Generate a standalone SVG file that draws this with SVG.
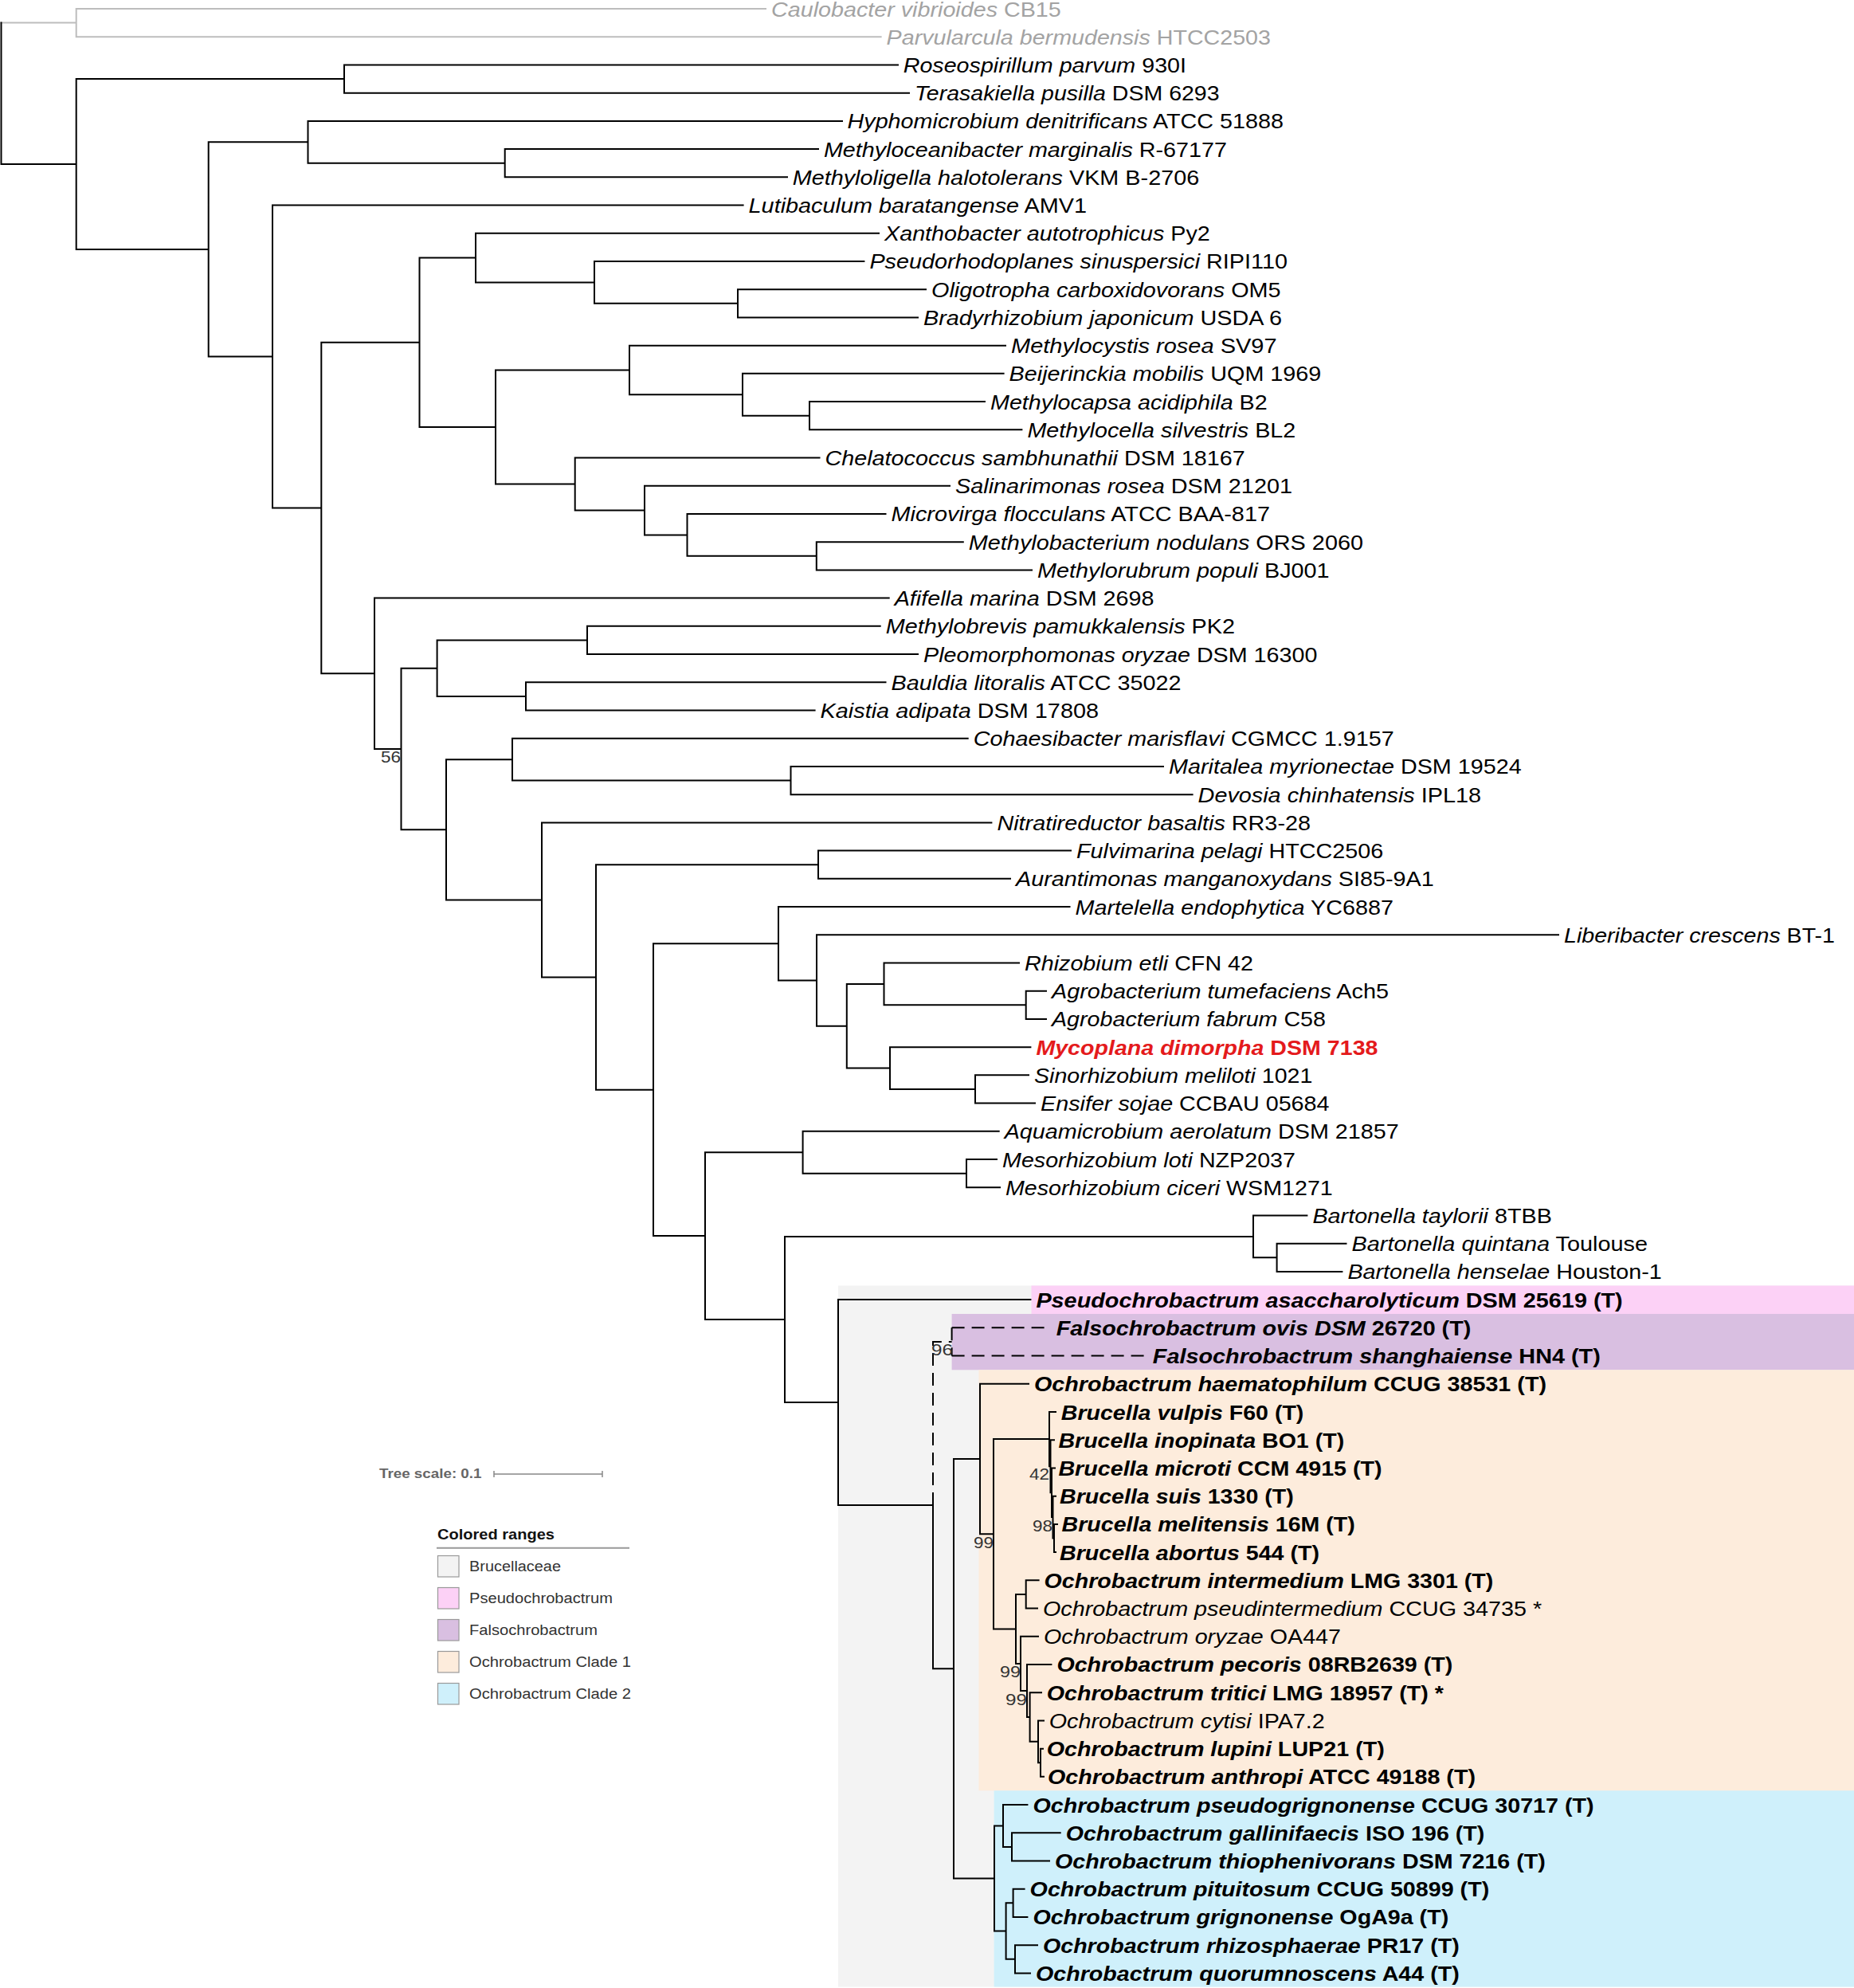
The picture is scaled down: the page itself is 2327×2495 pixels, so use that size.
<svg xmlns="http://www.w3.org/2000/svg" width="2327" height="2495" viewBox="0 0 2327 2495">
<style>
.t{font-family:"Liberation Sans",Arial,sans-serif;font-size:25px;fill:#000}
.i{font-style:italic}
.b{font-weight:bold}
.gr{fill:#a3a3a3}
.red{fill:#e41a1c}
.br{stroke:#000;stroke-width:2;fill:none;stroke-linecap:square}
.og{stroke:#bdbdbd;stroke-width:2;fill:none;stroke-linecap:square}
.dash{stroke:#000;stroke-width:2;fill:none;stroke-dasharray:16 9}
.bs{font-family:"Liberation Sans",Arial,sans-serif;font-size:21px;fill:#333;text-anchor:end}
.lg{font-family:"Liberation Sans",Arial,sans-serif;font-size:18px;fill:#333}
.box{stroke:#999;stroke-width:1.2}
</style>
<rect width="2327" height="2495" fill="#fff"/>
<g id="ranges">
<rect x="1052" y="1613.5" width="1275" height="880" fill="#f3f3f3"/>
<rect x="1294.5" y="1613.5" width="1032.5" height="35.5" fill="#fcd1f6"/>
<rect x="1194.6" y="1649" width="1132.4" height="70.3" fill="#d9bfe1"/>
<rect x="1228.5" y="1719.3" width="1098.5" height="528" fill="#fdecdc"/>
<rect x="1247.6" y="2247.3" width="1079.4" height="246.2" fill="#cff0fb"/>
</g>
<g id="connectors">
<path class="og" d="M1.5 28.61H95.7M95.7 11V46.22M95.7 11H961M95.7 46.22H1105.6"/>
<path class="br" d="M1.5 28.61V205.99M1.5 205.99H95.7
M95.7 99.05V312.93M95.7 99.05H432M95.7 312.93H261.7
M432 81.44V116.66M432 81.44H1127M432 116.66H1141
M261.7 178.3V447.55M261.7 178.3H386.5M261.7 447.55H342
M386.5 151.88V204.71M386.5 151.88H1057M386.5 204.71H633.7
M633.7 187.1V222.32M633.7 187.1H1027M633.7 222.32H988
M342 257.54V637.55M342 257.54H932.6M342 637.55H403.3
M403.3 429.79V845.3M403.3 429.79H526.5M403.3 845.3H470
M526.5 323.58V536M526.5 323.58H597M526.5 536H622
M597 292.76V354.4M597 292.76H1103M597 354.4H746
M746 327.98V380.81M746 327.98H1084.4M746 380.81H926
M926 363.2V398.42M926 363.2H1162M926 398.42H1152
M622 464.46V607.54M622 464.46H790M622 607.54H721.7
M790 433.64V495.28M790 433.64H1262M790 495.28H932
M932 468.86V521.69M932 468.86H1259.6M932 521.69H1016
M1016 504.08V539.3M1016 504.08H1236M1016 539.3H1282.4
M721.7 574.52V640.56M721.7 574.52H1028.5M721.7 640.56H809
M809 609.74V671.38M809 609.74H1192M809 671.38H862.5
M862.5 644.96V697.79M862.5 644.96H1111.5M862.5 697.79H1024.8
M1024.8 680.18V715.4M1024.8 680.18H1208.8M1024.8 715.4H1295
M470 750.62V939.98M470 750.62H1115.7M470 939.98H503.5
M503.5 838.67V1041.28M503.5 838.67H548.6M503.5 1041.28H560
M548.6 803.45V873.89M548.6 803.45H737M548.6 873.89H660
M737 785.84V821.06M737 785.84H1104.7M737 821.06H1152
M660 856.28V891.5M660 856.28H1111.5M660 891.5H1022.6
M560 953.14V1129.42M560 953.14H643M560 1129.42H680
M643 926.72V979.55M643 926.72H1214.7M643 979.55H992.5
M992.5 961.94V997.16M992.5 961.94H1460M992.5 997.16H1496.6
M680 1032.38V1226.45M680 1032.38H1244.4M680 1226.45H748
M748 1085.21V1367.69M748 1085.21H1027M748 1367.69H820
M1027 1067.6V1102.82M1027 1067.6H1344M1027 1102.82H1268
M820 1184.27V1551.11M820 1184.27H977M820 1551.11H885
M977 1138.04V1230.5M977 1138.04H1342.5M977 1230.5H1025
M1025 1173.26V1287.73M1025 1173.26H1956M1025 1287.73H1062.8
M1062.8 1234.9V1340.56M1062.8 1234.9H1109.5M1062.8 1340.56H1117
M1109.5 1208.48V1261.31M1109.5 1208.48H1279M1109.5 1261.31H1287.7
M1287.7 1243.7V1278.92M1287.7 1243.7H1313M1287.7 1278.92H1313
M1117 1314.14V1366.97M1117 1314.14H1293.4M1117 1366.97H1224
M1224 1349.36V1384.58M1224 1349.36H1291M1224 1384.58H1299
M885 1446.22V1656M885 1446.22H1007.6M885 1656H985
M1007.6 1419.8V1472.63M1007.6 1419.8H1253.7M1007.6 1472.63H1213
M1213 1455.02V1490.24M1213 1455.02H1251M1213 1490.24H1255
M985 1551.88V1760.12M985 1551.88H1573M985 1760.12H1052
M1573 1525.46V1578.29M1573 1525.46H1640.4M1573 1578.29H1602.6
M1602.6 1560.68V1595.9M1602.6 1560.68H1689.5M1602.6 1595.9H1684.4
M1052 1631.12V1889.12M1052 1631.12H1293.4M1052 1889.12H1171
M1171 1889.12V2094.28M1171 2094.28H1197
M1197 1831.02V2357.54M1197 1831.02H1230M1197 2357.54H1248
M1230 1736.78V1925.26M1230 1736.78H1291M1230 1925.26H1247
M1247 1806.12V2044.4M1247 1806.12H1317M1247 2044.4H1275
M1317 1772V1840.24M1317 1772H1325M1317 1840.24H1318.5
M1318.5 1807.22V1873.26M1318.5 1807.22H1323M1318.5 1873.26H1320
M1320 1842.44V1904.08M1320 1842.44H1324M1320 1904.08H1321.5
M1321.5 1877.66V1930.49M1321.5 1877.66H1325M1321.5 1930.49H1323
M1323 1912.88V1948.1M1323 1912.88H1327M1323 1948.1H1325
M1275 2000.93V2087.88M1275 2000.93H1287.7M1275 2087.88H1281
M1287.7 1983.32V2018.54M1287.7 1983.32H1303.6M1287.7 2018.54H1302
M1281 2053.76V2122M1281 2053.76H1303M1281 2122H1289
M1289 2088.98V2155.02M1289 2088.98H1319.4M1289 2155.02H1292.6
M1292.6 2124.2V2185.84M1292.6 2124.2H1307M1292.6 2185.84H1303
M1303 2159.42V2212.25M1303 2159.42H1310M1303 2212.25H1306
M1306 2194.64V2229.86M1306 2194.64H1309M1306 2229.86H1310
M1248 2291.5V2423.57M1248 2291.5H1259M1248 2423.57H1262.6
M1259 2265.08V2317.91M1259 2265.08H1289.4M1259 2317.91H1270
M1270 2300.3V2335.52M1270 2300.3H1330.7M1270 2335.52H1317
M1262.6 2388.35V2458.79M1262.6 2388.35H1271.6M1262.6 2458.79H1274
M1271.6 2370.74V2405.96M1271.6 2370.74H1285.6M1271.6 2405.96H1289.4
M1274 2441.18V2476.4M1274 2441.18H1302M1274 2476.4H1293"/>
<path class="dash" d="M1171 1889.12V1683.95H1194.6M1194.6 1666.34V1701.56M1194.6 1666.34H1318.8M1194.6 1701.56H1439.8"/>
</g>
<g id="bootstrap">
<text class="bs" x="503" y="957" textLength="25" lengthAdjust="spacingAndGlyphs">56</text>
<text class="bs" x="1196" y="1701" textLength="27" lengthAdjust="spacingAndGlyphs">96</text>
<text class="bs" x="1317" y="1857" textLength="25" lengthAdjust="spacingAndGlyphs">42</text>
<text class="bs" x="1321" y="1921.5" textLength="25" lengthAdjust="spacingAndGlyphs">98</text>
<text class="bs" x="1247" y="1943" textLength="25" lengthAdjust="spacingAndGlyphs">99</text>
<text class="bs" x="1281" y="2105" textLength="26" lengthAdjust="spacingAndGlyphs">99</text>
<text class="bs" x="1289" y="2140" textLength="27" lengthAdjust="spacingAndGlyphs">99</text>
</g>
<g id="leaves">
<g id="leaf01"><text class="t gr" x="968" y="20.5" textLength="363.8" lengthAdjust="spacingAndGlyphs"><tspan class="i">Caulobacter vibrioides</tspan> CB15</text></g>
<g id="leaf02"><text class="t gr" x="1112.6" y="55.72" textLength="482.4" lengthAdjust="spacingAndGlyphs"><tspan class="i">Parvularcula bermudensis</tspan> HTCC2503</text></g>
<g id="leaf03"><text class="t" x="1133.7" y="90.94" textLength="355.3" lengthAdjust="spacingAndGlyphs"><tspan class="i">Roseospirillum parvum</tspan> 930I</text></g>
<g id="leaf04"><text class="t" x="1148" y="126.16" textLength="382.6" lengthAdjust="spacingAndGlyphs"><tspan class="i">Terasakiella pusilla</tspan> DSM 6293</text></g>
<g id="leaf05"><text class="t" x="1063.5" y="161.38" textLength="547.5" lengthAdjust="spacingAndGlyphs"><tspan class="i">Hyphomicrobium denitrificans</tspan> ATCC 51888</text></g>
<g id="leaf06"><text class="t" x="1033.9" y="196.6" textLength="506.1" lengthAdjust="spacingAndGlyphs"><tspan class="i">Methyloceanibacter marginalis</tspan> R-67177</text></g>
<g id="leaf07"><text class="t" x="994.7" y="231.82" textLength="510.5" lengthAdjust="spacingAndGlyphs"><tspan class="i">Methyloligella halotolerans</tspan> VKM B-2706</text></g>
<g id="leaf08"><text class="t" x="939.6" y="267.04" textLength="424.4" lengthAdjust="spacingAndGlyphs"><tspan class="i">Lutibaculum baratangense</tspan> AMV1</text></g>
<g id="leaf09"><text class="t" x="1110" y="302.26" textLength="408.8" lengthAdjust="spacingAndGlyphs"><tspan class="i">Xanthobacter autotrophicus</tspan> Py2</text></g>
<g id="leaf10"><text class="t" x="1091.4" y="337.48" textLength="524.6" lengthAdjust="spacingAndGlyphs"><tspan class="i">Pseudorhodoplanes sinuspersici</tspan> RIPI110</text></g>
<g id="leaf11"><text class="t" x="1169" y="372.7" textLength="438.6" lengthAdjust="spacingAndGlyphs"><tspan class="i">Oligotropha carboxidovorans</tspan> OM5</text></g>
<g id="leaf12"><text class="t" x="1159" y="407.92" textLength="450" lengthAdjust="spacingAndGlyphs"><tspan class="i">Bradyrhizobium japonicum</tspan> USDA 6</text></g>
<g id="leaf13"><text class="t" x="1269" y="443.14" textLength="333.6" lengthAdjust="spacingAndGlyphs"><tspan class="i">Methylocystis rosea</tspan> SV97</text></g>
<g id="leaf14"><text class="t" x="1266.6" y="478.36" textLength="391.8" lengthAdjust="spacingAndGlyphs"><tspan class="i">Beijerinckia mobilis</tspan> UQM 1969</text></g>
<g id="leaf15"><text class="t" x="1243" y="513.58" textLength="347.7" lengthAdjust="spacingAndGlyphs"><tspan class="i">Methylocapsa acidiphila</tspan> B2</text></g>
<g id="leaf16"><text class="t" x="1289.4" y="548.8" textLength="336.9" lengthAdjust="spacingAndGlyphs"><tspan class="i">Methylocella silvestris</tspan> BL2</text></g>
<g id="leaf17"><text class="t" x="1035.5" y="584.02" textLength="527.3" lengthAdjust="spacingAndGlyphs"><tspan class="i">Chelatococcus sambhunathii</tspan> DSM 18167</text></g>
<g id="leaf18"><text class="t" x="1199" y="619.24" textLength="423" lengthAdjust="spacingAndGlyphs"><tspan class="i">Salinarimonas rosea</tspan> DSM 21201</text></g>
<g id="leaf19"><text class="t" x="1118.5" y="654.46" textLength="475.5" lengthAdjust="spacingAndGlyphs"><tspan class="i">Microvirga flocculans</tspan> ATCC BAA-817</text></g>
<g id="leaf20"><text class="t" x="1215.8" y="689.68" textLength="495.2" lengthAdjust="spacingAndGlyphs"><tspan class="i">Methylobacterium nodulans</tspan> ORS 2060</text></g>
<g id="leaf21"><text class="t" x="1302" y="724.9" textLength="366.6" lengthAdjust="spacingAndGlyphs"><tspan class="i">Methylorubrum populi</tspan> BJ001</text></g>
<g id="leaf22"><text class="t" x="1122.7" y="760.12" textLength="325.8" lengthAdjust="spacingAndGlyphs"><tspan class="i">Afifella marina</tspan> DSM 2698</text></g>
<g id="leaf23"><text class="t" x="1111.7" y="795.34" textLength="438.3" lengthAdjust="spacingAndGlyphs"><tspan class="i">Methylobrevis pamukkalensis</tspan> PK2</text></g>
<g id="leaf24"><text class="t" x="1159" y="830.56" textLength="494.4" lengthAdjust="spacingAndGlyphs"><tspan class="i">Pleomorphomonas oryzae</tspan> DSM 16300</text></g>
<g id="leaf25"><text class="t" x="1118.5" y="865.78" textLength="363.9" lengthAdjust="spacingAndGlyphs"><tspan class="i">Bauldia litoralis</tspan> ATCC 35022</text></g>
<g id="leaf26"><text class="t" x="1029.6" y="901" textLength="349.4" lengthAdjust="spacingAndGlyphs"><tspan class="i">Kaistia adipata</tspan> DSM 17808</text></g>
<g id="leaf27"><text class="t" x="1221.7" y="936.22" textLength="528.1" lengthAdjust="spacingAndGlyphs"><tspan class="i">Cohaesibacter marisflavi</tspan> CGMCC 1.9157</text></g>
<g id="leaf28"><text class="t" x="1467" y="971.44" textLength="442.8" lengthAdjust="spacingAndGlyphs"><tspan class="i">Maritalea myrionectae</tspan> DSM 19524</text></g>
<g id="leaf29"><text class="t" x="1503.6" y="1006.66" textLength="355.4" lengthAdjust="spacingAndGlyphs"><tspan class="i">Devosia chinhatensis</tspan> IPL18</text></g>
<g id="leaf30"><text class="t" x="1251.4" y="1041.88" textLength="393.6" lengthAdjust="spacingAndGlyphs"><tspan class="i">Nitratireductor basaltis</tspan> RR3-28</text></g>
<g id="leaf31"><text class="t" x="1351" y="1077.1" textLength="385.3" lengthAdjust="spacingAndGlyphs"><tspan class="i">Fulvimarina pelagi</tspan> HTCC2506</text></g>
<g id="leaf32"><text class="t" x="1275" y="1112.32" textLength="524.8" lengthAdjust="spacingAndGlyphs"><tspan class="i">Aurantimonas manganoxydans</tspan> SI85-9A1</text></g>
<g id="leaf33"><text class="t" x="1349.5" y="1147.54" textLength="399.5" lengthAdjust="spacingAndGlyphs"><tspan class="i">Martelella endophytica</tspan> YC6887</text></g>
<g id="leaf34"><text class="t" x="1963" y="1182.76" textLength="340" lengthAdjust="spacingAndGlyphs"><tspan class="i">Liberibacter crescens</tspan> BT-1</text></g>
<g id="leaf35"><text class="t" x="1286" y="1217.98" textLength="287" lengthAdjust="spacingAndGlyphs"><tspan class="i">Rhizobium etli</tspan> CFN 42</text></g>
<g id="leaf36"><text class="t" x="1320" y="1253.2" textLength="423" lengthAdjust="spacingAndGlyphs"><tspan class="i">Agrobacterium tumefaciens</tspan> Ach5</text></g>
<g id="leaf37"><text class="t" x="1320" y="1288.42" textLength="344" lengthAdjust="spacingAndGlyphs"><tspan class="i">Agrobacterium fabrum</tspan> C58</text></g>
<g id="leaf38"><text class="t b red" x="1300.4" y="1323.64" textLength="429.1" lengthAdjust="spacingAndGlyphs"><tspan class="i">Mycoplana dimorpha</tspan> DSM 7138</text></g>
<g id="leaf39"><text class="t" x="1298" y="1358.86" textLength="349.4" lengthAdjust="spacingAndGlyphs"><tspan class="i">Sinorhizobium meliloti</tspan> 1021</text></g>
<g id="leaf40"><text class="t" x="1306" y="1394.08" textLength="362.6" lengthAdjust="spacingAndGlyphs"><tspan class="i">Ensifer sojae</tspan> CCBAU 05684</text></g>
<g id="leaf41"><text class="t" x="1260.7" y="1429.3" textLength="495" lengthAdjust="spacingAndGlyphs"><tspan class="i">Aquamicrobium aerolatum</tspan> DSM 21857</text></g>
<g id="leaf42"><text class="t" x="1258" y="1464.52" textLength="368" lengthAdjust="spacingAndGlyphs"><tspan class="i">Mesorhizobium loti</tspan> NZP2037</text></g>
<g id="leaf43"><text class="t" x="1262" y="1499.74" textLength="410.8" lengthAdjust="spacingAndGlyphs"><tspan class="i">Mesorhizobium ciceri</tspan> WSM1271</text></g>
<g id="leaf44"><text class="t" x="1647.4" y="1534.96" textLength="300.5" lengthAdjust="spacingAndGlyphs"><tspan class="i">Bartonella taylorii</tspan> 8TBB</text></g>
<g id="leaf45"><text class="t" x="1696.5" y="1570.18" textLength="371.5" lengthAdjust="spacingAndGlyphs"><tspan class="i">Bartonella quintana</tspan> Toulouse</text></g>
<g id="leaf46"><text class="t" x="1691.4" y="1605.4" textLength="394.4" lengthAdjust="spacingAndGlyphs"><tspan class="i">Bartonella henselae</tspan> Houston-1</text></g>
<g id="leaf47"><text class="t b" x="1300.4" y="1640.62" textLength="736.3" lengthAdjust="spacingAndGlyphs"><tspan class="i">Pseudochrobactrum asaccharolyticum</tspan> DSM 25619 (T)</text></g>
<g id="leaf48"><text class="t b" x="1325.8" y="1675.84" textLength="520.5" lengthAdjust="spacingAndGlyphs"><tspan class="i">Falsochrobactrum ovis DSM</tspan> 26720 (T)</text></g>
<g id="leaf49"><text class="t b" x="1446.8" y="1711.06" textLength="562" lengthAdjust="spacingAndGlyphs"><tspan class="i">Falsochrobactrum shanghaiense</tspan> HN4 (T)</text></g>
<g id="leaf50"><text class="t b" x="1298" y="1746.28" textLength="643" lengthAdjust="spacingAndGlyphs"><tspan class="i">Ochrobactrum haematophilum</tspan> CCUG 38531 (T)</text></g>
<g id="leaf51"><text class="t b" x="1331.8" y="1781.5" textLength="304.6" lengthAdjust="spacingAndGlyphs"><tspan class="i">Brucella vulpis</tspan> F60 (T)</text></g>
<g id="leaf52"><text class="t b" x="1328.4" y="1816.72" textLength="358.8" lengthAdjust="spacingAndGlyphs"><tspan class="i">Brucella inopinata</tspan> BO1 (T)</text></g>
<g id="leaf53"><text class="t b" x="1328.4" y="1851.94" textLength="406.2" lengthAdjust="spacingAndGlyphs"><tspan class="i">Brucella microti</tspan> CCM 4915 (T)</text></g>
<g id="leaf54"><text class="t b" x="1330" y="1887.16" textLength="293.7" lengthAdjust="spacingAndGlyphs"><tspan class="i">Brucella suis</tspan> 1330 (T)</text></g>
<g id="leaf55"><text class="t b" x="1332.6" y="1922.38" textLength="368.1" lengthAdjust="spacingAndGlyphs"><tspan class="i">Brucella melitensis</tspan> 16M (T)</text></g>
<g id="leaf56"><text class="t b" x="1330" y="1957.6" textLength="326" lengthAdjust="spacingAndGlyphs"><tspan class="i">Brucella abortus</tspan> 544 (T)</text></g>
<g id="leaf57"><text class="t b" x="1310.6" y="1992.82" textLength="563.6" lengthAdjust="spacingAndGlyphs"><tspan class="i">Ochrobactrum intermedium</tspan> LMG 3301 (T)</text></g>
<g id="leaf58"><text class="t" x="1309" y="2028.04" textLength="626.2" lengthAdjust="spacingAndGlyphs"><tspan class="i">Ochrobactrum pseudintermedium</tspan> CCUG 34735 *</text></g>
<g id="leaf59"><text class="t" x="1310" y="2063.26" textLength="373" lengthAdjust="spacingAndGlyphs"><tspan class="i">Ochrobactrum oryzae</tspan> OA447</text></g>
<g id="leaf60"><text class="t b" x="1326.4" y="2098.48" textLength="497" lengthAdjust="spacingAndGlyphs"><tspan class="i">Ochrobactrum pecoris</tspan> 08RB2639 (T)</text></g>
<g id="leaf61"><text class="t b" x="1313.7" y="2133.7" textLength="498.3" lengthAdjust="spacingAndGlyphs"><tspan class="i">Ochrobactrum tritici</tspan> LMG 18957 (T) *</text></g>
<g id="leaf62"><text class="t" x="1316.7" y="2168.92" textLength="346.1" lengthAdjust="spacingAndGlyphs"><tspan class="i">Ochrobactrum cytisi</tspan> IPA7.2</text></g>
<g id="leaf63"><text class="t b" x="1313.7" y="2204.14" textLength="424.1" lengthAdjust="spacingAndGlyphs"><tspan class="i">Ochrobactrum lupini</tspan> LUP21 (T)</text></g>
<g id="leaf64"><text class="t b" x="1315" y="2239.36" textLength="537" lengthAdjust="spacingAndGlyphs"><tspan class="i">Ochrobactrum anthropi</tspan> ATCC 49188 (T)</text></g>
<g id="leaf65"><text class="t b" x="1296.4" y="2274.58" textLength="704.2" lengthAdjust="spacingAndGlyphs"><tspan class="i">Ochrobactrum pseudogrignonense</tspan> CCUG 30717 (T)</text></g>
<g id="leaf66"><text class="t b" x="1337.7" y="2309.8" textLength="525.5" lengthAdjust="spacingAndGlyphs"><tspan class="i">Ochrobactrum gallinifaecis</tspan> ISO 196 (T)</text></g>
<g id="leaf67"><text class="t b" x="1324" y="2345.02" textLength="615.8" lengthAdjust="spacingAndGlyphs"><tspan class="i">Ochrobactrum thiophenivorans</tspan> DSM 7216 (T)</text></g>
<g id="leaf68"><text class="t b" x="1292.6" y="2380.24" textLength="576.6" lengthAdjust="spacingAndGlyphs"><tspan class="i">Ochrobactrum pituitosum</tspan> CCUG 50899 (T)</text></g>
<g id="leaf69"><text class="t b" x="1296.4" y="2415.46" textLength="521.8" lengthAdjust="spacingAndGlyphs"><tspan class="i">Ochrobactrum grignonense</tspan> OgA9a (T)</text></g>
<g id="leaf70"><text class="t b" x="1309" y="2450.68" textLength="522.7" lengthAdjust="spacingAndGlyphs"><tspan class="i">Ochrobactrum rhizosphaerae</tspan> PR17 (T)</text></g>
<g id="leaf71"><text class="t b" x="1300" y="2485.9" textLength="531.7" lengthAdjust="spacingAndGlyphs"><tspan class="i">Ochrobactrum quorumnoscens</tspan> A44 (T)</text></g>
</g>
<g id="scale">
<text x="476" y="1855" font-family="Liberation Sans, Arial, sans-serif" font-size="17" font-weight="bold" fill="#666" textLength="128.5" lengthAdjust="spacingAndGlyphs">Tree scale: 0.1</text>
<path d="M620 1850H756M620 1846V1854M756 1846V1854" stroke="#888" stroke-width="1.5" fill="none"/>
</g>
<g id="legend">
<text x="549" y="1932" font-family="Liberation Sans, Arial, sans-serif" font-size="19" font-weight="bold" fill="#111" textLength="147" lengthAdjust="spacingAndGlyphs">Colored ranges</text>
<path d="M548 1942.7H790" stroke="#999" stroke-width="2"/>
<rect class="box" x="549.5" y="1952.5" width="26.5" height="26.5" fill="#f3f3f3"/>
<rect class="box" x="549.5" y="1992.5" width="26.5" height="26.5" fill="#fcd1f6"/>
<rect class="box" x="549.5" y="2032.5" width="26.5" height="26.5" fill="#d9bfe1"/>
<rect class="box" x="549.5" y="2072.5" width="26.5" height="26.5" fill="#fdecdc"/>
<rect class="box" x="549.5" y="2112.5" width="26.5" height="26.5" fill="#cff0fb"/>
<text class="lg" x="589" y="1972.3" textLength="115" lengthAdjust="spacingAndGlyphs">Brucellaceae</text>
<text class="lg" x="589" y="2012.3" textLength="180" lengthAdjust="spacingAndGlyphs">Pseudochrobactrum</text>
<text class="lg" x="589" y="2052.3" textLength="161" lengthAdjust="spacingAndGlyphs">Falsochrobactrum</text>
<text class="lg" x="589" y="2092.3" textLength="203" lengthAdjust="spacingAndGlyphs">Ochrobactrum Clade 1</text>
<text class="lg" x="589" y="2132.3" textLength="203" lengthAdjust="spacingAndGlyphs">Ochrobactrum Clade 2</text>
</g>
</svg>
